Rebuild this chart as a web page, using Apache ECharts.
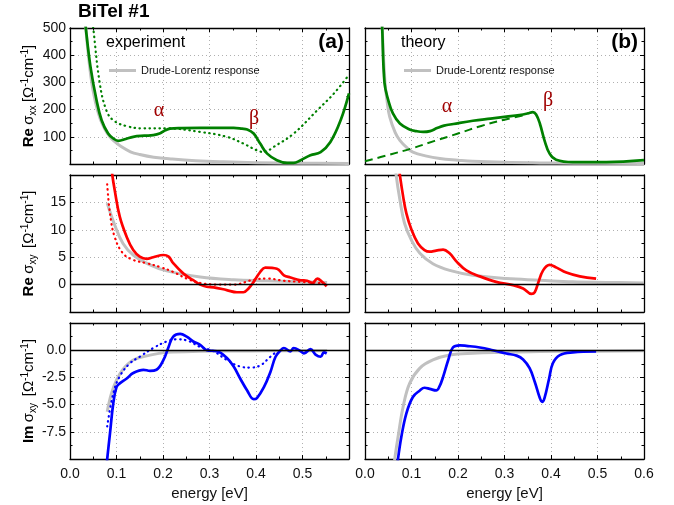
<!DOCTYPE html>
<html>
<head>
<meta charset="utf-8">
<script src="https://cdn.jsdelivr.net/npm/echarts@6/dist/echarts.min.js"></script>
<style>
html, body { margin: 0; padding: 0; background: #fff; }
#chart { width: 674px; height: 505px; }
</style>
</head>
<body>
<div id="chart"></div>
<script>
// (a) experiment, Re sigma_xx
const sxxExpE = [0.030, 0.034, 0.044, 0.057, 0.068, 0.082, 0.093, 0.104, 0.120, 0.136, 0.160, 0.179, 0.194, 0.205, 0.215, 0.240, 0.280, 0.320, 0.352, 0.370, 0.381, 0.395, 0.409, 0.424, 0.445, 0.467, 0.481, 0.496, 0.517, 0.539, 0.560, 0.582, 0.600]
const sxxExpV = [580, 500, 358, 235, 161, 112, 94, 85, 92, 100, 104, 106, 113, 124, 130, 132, 133, 133, 133, 130, 127, 112, 75, 38, 14, 4, 4, 14, 32, 44, 81, 161, 260]
const sxxFitE = [0.046, 0.050, 0.064, 0.078, 0.093, 0.122, 0.158, 0.208, 0.280, 0.337, 0.373, 0.402, 0.417, 0.438, 0.481, 0.532, 0.568, 0.600]
const sxxFitV = [560, 500, 297, 198, 161, 139, 131, 131, 118, 100, 75, 50, 44, 63, 112, 198, 260, 328]
const sxxDlExpE = [0.030, 0.034, 0.045, 0.055, 0.065, 0.075, 0.085, 0.095, 0.110, 0.130, 0.150, 0.180, 0.220, 0.270, 0.330, 0.400, 0.500, 0.600]
const sxxDlExpV = [620, 500, 320, 225, 165, 128, 102, 84, 64, 45, 35, 25, 18, 12, 8, 5, 3, 2]

// (b) theory, Re sigma_xx
const sxxThE = [0.034, 0.037, 0.042, 0.050, 0.060, 0.075, 0.096, 0.110, 0.125, 0.140, 0.155, 0.170, 0.190, 0.232, 0.270, 0.304, 0.332, 0.350, 0.361, 0.368, 0.376, 0.386, 0.397, 0.411, 0.447, 0.519, 0.600]
const sxxThV = [620, 500, 297, 235, 186, 149, 127, 121, 118, 121, 132, 141, 147, 159, 167, 174, 180, 186, 191, 182, 149, 87, 38, 16, 7, 7, 14]
const sxxInterE = [0, 0.05, 0.10, 0.15, 0.20, 0.25, 0.30, 0.345]
const sxxInterV = [10, 33, 57, 85, 112, 140, 163, 180]
const sxxDlThE = [0.034, 0.037, 0.043, 0.048, 0.053, 0.065, 0.075, 0.090, 0.103, 0.130, 0.161, 0.200, 0.232, 0.300, 0.376, 0.450, 0.600]
const sxxDlThV = [650, 500, 300, 225, 174, 115, 87, 60, 44, 30, 20, 14, 10, 6, 4, 3, 2]

// Re sigma_xy
const rxyExpE = [0.089, 0.091, 0.096, 0.107, 0.122, 0.136, 0.150, 0.165, 0.179, 0.201, 0.212, 0.222, 0.244, 0.265, 0.280, 0.294, 0.309, 0.337, 0.359, 0.373, 0.384, 0.395, 0.409, 0.420, 0.445, 0.460, 0.474, 0.496, 0.510, 0.521, 0.532, 0.542, 0.552]
const rxyExpV = [22, 20, 17.3, 12.4, 8.7, 6.3, 5.1, 4.7, 5.0, 5.4, 5.1, 3.9, 2.0, 0.8, 0, -0.4, -0.5, -1.0, -1.4, -1.4, -0.7, 0.5, 2.3, 3.1, 2.9, 1.7, 1.3, 0.8, 0.7, 0.3, 1.1, 0.5, -0.3]
const rxyFitE = [0.080, 0.086, 0.096, 0.114, 0.136, 0.165, 0.194, 0.222, 0.251, 0.280, 0.316, 0.352, 0.395, 0.424, 0.460, 0.496, 0.532, 0.550]
const rxyFitV = [18.3, 13, 8.7, 5.7, 4.5, 3.9, 3.2, 2.3, 1.1, 0.3, 0, 0, 0.9, 1.1, 0.7, 0.5, 0.3, 0.1]
const rxyDlExpE = [0.080, 0.096, 0.114, 0.136, 0.172, 0.208, 0.280, 0.352, 0.424, 0.496, 0.553]
const rxyDlExpV = [14.9, 10.9, 7.5, 5.4, 3.6, 2.5, 1.4, 0.9, 0.7, 0.5, 0.4]
const rxyThE = [0.072, 0.075, 0.082, 0.089, 0.100, 0.114, 0.128, 0.139, 0.153, 0.168, 0.182, 0.197, 0.218, 0.247, 0.282, 0.318, 0.340, 0.358, 0.365, 0.372, 0.383, 0.397, 0.412, 0.433, 0.462, 0.497]
const rxyThV = [22, 20, 16.1, 13, 10, 7.5, 6.3, 6.0, 6.2, 6.4, 5.7, 4.2, 2.6, 1.5, 0.5, -0.1, -0.7, -1.7, -1.4, 0.2, 2.6, 3.6, 3.1, 2.2, 1.5, 1.1]
const rxyDlThE = [0.064, 0.067, 0.075, 0.085, 0.100, 0.118, 0.146, 0.182, 0.232, 0.304, 0.376, 0.447, 0.519, 0.600]
const rxyDlThV = [23, 20, 15.5, 11.2, 8.1, 5.7, 3.8, 2.6, 1.7, 1.1, 0.8, 0.5, 0.4, 0.3]

// Im sigma_xy
const ixyExpE = [0.079, 0.080, 0.086, 0.093, 0.100, 0.107, 0.122, 0.136, 0.158, 0.172, 0.186, 0.201, 0.212, 0.222, 0.237, 0.251, 0.265, 0.280, 0.294, 0.316, 0.337, 0.352, 0.366, 0.381, 0.395, 0.402, 0.417, 0.431, 0.442, 0.453, 0.460, 0.474, 0.481, 0.496, 0.503, 0.517, 0.528, 0.539, 0.546, 0.552]
const ixyExpV = [-10.5, -10, -7.65, -4.9, -3.4, -3.05, -2.6, -2.1, -1.8, -1.9, -1.8, -0.9, 0.3, 1.25, 1.5, 1.25, 0.8, 0.5, 0, -0.1, -0.7, -1.5, -2.6, -3.7, -4.5, -4.4, -3.4, -2.0, -0.6, 0, 0.2, -0.1, 0.2, -0.1, -0.3, 0.1, -0.4, -0.6, -0.2, -0.3]
const ixyFitE = [0.080, 0.093, 0.107, 0.129, 0.150, 0.179, 0.208, 0.229, 0.251, 0.280, 0.309, 0.337, 0.366, 0.388, 0.409, 0.431, 0.445]
const ixyFitV = [-7.0, -4.0, -2.4, -1.2, -0.6, 0.2, 0.8, 1.0, 0.9, 0.3, -0.1, -0.9, -1.5, -1.6, -1.4, -0.6, -0.1]
const ixyDlExpE = [0.080, 0.089, 0.100, 0.115, 0.136, 0.172, 0.208, 0.280, 0.352, 0.424, 0.496, 0.553]
const ixyDlExpV = [-5.65, -4.0, -2.75, -1.7, -0.9, -0.45, -0.2, -0.1, -0.08, -0.06, -0.05, -0.04]
const ixyThE = [0.069, 0.071, 0.078, 0.089, 0.103, 0.118, 0.128, 0.139, 0.153, 0.160, 0.168, 0.179, 0.189, 0.204, 0.218, 0.247, 0.275, 0.304, 0.326, 0.340, 0.354, 0.365, 0.376, 0.381, 0.386, 0.396, 0.404, 0.419, 0.447, 0.497]
const ixyThV = [-11, -10, -8.0, -5.8, -4.3, -3.7, -3.45, -3.55, -3.7, -3.35, -2.45, -0.9, 0.25, 0.45, 0.4, 0.25, 0, -0.3, -0.5, -0.85, -1.65, -2.9, -4.4, -4.75, -4.4, -2.6, -1.2, -0.45, -0.2, -0.12]
const ixyDlThE = [0.062, 0.064, 0.071, 0.082, 0.096, 0.118, 0.146, 0.182, 0.232, 0.304, 0.376, 0.447, 0.600]
const ixyDlThV = [-11, -10, -8.0, -5.2, -3.05, -1.65, -0.9, -0.45, -0.28, -0.2, -0.12, -0.1, -0.06]

const energyTicks = [0, 0.6, 0.1]
const rowScales = [
  {min: 0, max: 500, interval: 100, shown: [100, 200, 300, 400, 500], digits: 0},
  {min: -5, max: 20, interval: 5, shown: [0, 5, 10, 15], digits: 0},
  {min: -10, max: 2.5, interval: 2.5, shown: [0, -2.5, -5, -7.5], digits: 1}
]

const FONT = 'Liberation Sans, Arial, sans-serif'
const GREEN = '#008000', RED = '#ff0000', BLUE = '#0000ff', GRAY = '#c0c0c0', DARKRED = '#a00000'
const DL = 'Drude-Lorentz response'

const grids = [
  {left: 70, top: 28, width: 279, height: 136},
  {left: 365, top: 28, width: 279, height: 136},
  {left: 70, top: 175, width: 279, height: 137},
  {left: 365, top: 175, width: 279, height: 137},
  {left: 70, top: 323, width: 279, height: 136},
  {left: 365, top: 323, width: 279, height: 136}
]

const nameRich = {
  b: {fontSize: 15, fontWeight: 'bold', fontFamily: FONT, color: '#000'},
  n: {fontSize: 15, fontFamily: FONT, color: '#000'},
  s: {fontSize: 10, fontFamily: FONT, color: '#000', padding: [8, 0, 0, 0]},
  p: {fontSize: 10, fontFamily: FONT, color: '#000', padding: [0, 0, 8, 0]}
}
const yNames = [
  '{b|Re} {n|σ}{s|xx} {n|[Ω}{p|-1}{n|cm}{p|-1}{n|]}',
  '{b|Re} {n|σ}{s|xy}  {n|[Ω}{p|-1}{n|cm}{p|-1}{n|]}',
  '{b|Im} {n|σ}{s|xy}  {n|[Ω}{p|-1}{n|cm}{p|-1}{n|]}'
]

const pts = (xs, ys) => xs.map((x, i) => [x, ys[i]])

const tickStyle = {show: true, inside: true, length: 4, lineStyle: {color: '#000', width: 1}}
const minorStyle = {show: true, splitNumber: 2, length: 2.5, lineStyle: {color: '#000', width: 1}}
const gridLine = {show: true, lineStyle: {color: '#b0b0b0', width: 1, type: [1, 3]}}
const frame = {show: true, onZero: false, lineStyle: {color: '#000', width: 1.3}}

const xAxes = [], yAxes = []
grids.forEach((g, i) => {
  const row = Math.floor(i / 2), col = i % 2
  const sc = rowScales[row]
  xAxes.push({
    type: 'value', gridIndex: i, position: 'bottom',
    min: energyTicks[0], max: energyTicks[1], interval: energyTicks[2],
    axisLine: frame, axisTick: tickStyle, minorTick: minorStyle, splitLine: gridLine,
    axisLabel: {show: row === 2, margin: 8, fontSize: 14, fontFamily: FONT, color: '#111',
      formatter: v => (col === 0 && v > 0.55) ? '' : v.toFixed(1)},
    name: row === 2 ? 'energy [eV]' : '', nameLocation: 'middle', nameGap: 27,
    nameTextStyle: {fontSize: 15, fontFamily: FONT, color: '#111'}
  })
  yAxes.push({
    type: 'value', gridIndex: i, position: 'left',
    min: sc.min, max: sc.max, interval: sc.interval,
    axisLine: frame, axisTick: tickStyle, minorTick: minorStyle, splitLine: gridLine,
    axisLabel: {show: col === 0, margin: 4, fontSize: 14, fontFamily: FONT, color: '#111',
      formatter: v => sc.shown.some(s => Math.abs(s - v) < 1e-9) ? v.toFixed(sc.digits) : ''},
    name: col === 0 ? yNames[row] : '', nameLocation: 'middle', nameRotate: 90, nameGap: 32,
    nameTextStyle: {rich: nameRich}
  })
})
grids.forEach((g, i) => {
  const sc = rowScales[Math.floor(i / 2)]
  xAxes.push({
    type: 'value', gridIndex: i, position: 'top',
    min: energyTicks[0], max: energyTicks[1], interval: energyTicks[2],
    axisLine: frame, axisTick: tickStyle, minorTick: minorStyle,
    splitLine: {show: false}, axisLabel: {show: false}
  })
  yAxes.push({
    type: 'value', gridIndex: i, position: 'right',
    min: sc.min, max: sc.max, interval: sc.interval,
    axisLine: frame, axisTick: tickStyle, minorTick: minorStyle,
    splitLine: {show: false}, axisLabel: {show: false}
  })
})

const DOT = [0.5, 4.5], DASH = [8, 5]

function line(name, gi, xs, ys, color, width, type, z) {
  return {
    name: name, type: 'line', xAxisIndex: gi, yAxisIndex: gi,
    data: pts(xs, ys), showSymbol: false, smooth: 0.4,
    lineStyle: {color: color, width: width, type: type, cap: type === DOT ? 'round' : 'butt', join: 'round'},
    itemStyle: {color: color}, z: z, silent: true
  }
}
const zeroLine = {
  silent: true, symbol: ['none', 'none'], label: {show: false},
  lineStyle: {color: '#000', width: 1.3, type: 'solid'}, data: [{yAxis: 0}]
}

const series = [
  line(DL, 0, sxxDlExpE, sxxDlExpV, GRAY, 3, 'solid', 2),
  line('fit xx', 0, sxxFitE, sxxFitV, GREEN, 2.2, DOT, 3),
  line('exp xx', 0, sxxExpE, sxxExpV, GREEN, 2.7, 'solid', 4),
  line(DL, 1, sxxDlThE, sxxDlThV, GRAY, 3, 'solid', 2),
  line('inter xx', 1, sxxInterE, sxxInterV, GREEN, 2, DASH, 3),
  line('th xx', 1, sxxThE, sxxThV, GREEN, 2.7, 'solid', 4),
  Object.assign(line(DL, 2, rxyDlExpE, rxyDlExpV, GRAY, 3, 'solid', 2), {markLine: zeroLine}),
  line('fit rxy', 2, rxyFitE, rxyFitV, RED, 2.2, DOT, 3),
  line('exp rxy', 2, rxyExpE, rxyExpV, RED, 2.7, 'solid', 4),
  Object.assign(line(DL, 3, rxyDlThE, rxyDlThV, GRAY, 3, 'solid', 2), {markLine: zeroLine}),
  line('th rxy', 3, rxyThE, rxyThV, RED, 2.7, 'solid', 4),
  Object.assign(line(DL, 4, ixyDlExpE, ixyDlExpV, GRAY, 3, 'solid', 2), {markLine: zeroLine}),
  line('fit ixy', 4, ixyFitE, ixyFitV, BLUE, 2.2, DOT, 3),
  line('exp ixy', 4, ixyExpE, ixyExpV, BLUE, 2.7, 'solid', 4),
  Object.assign(line(DL, 5, ixyDlThE, ixyDlThV, GRAY, 3, 'solid', 2), {markLine: zeroLine}),
  line('th ixy', 5, ixyThE, ixyThV, BLUE, 2.7, 'solid', 4)
]

function label(text, x, y, font, color, align) {
  return {type: 'text', x: x, y: y, silent: true, z: 10,
    style: {text: text, font: font, fill: color, textAlign: align, align: align,
      textVerticalAlign: 'middle', verticalAlign: 'middle'}}
}

const legendBase = {
  data: [DL], icon: 'rect', itemWidth: 27, itemHeight: 3, padding: 0,
  textStyle: {fontSize: 11, fontFamily: FONT, color: '#111'}, selectedMode: false
}

const chart = echarts.init(document.getElementById('chart'), null, {renderer: 'canvas'})
chart.setOption({
  animation: false,
  backgroundColor: '#fff',
  grid: grids,
  xAxis: xAxes,
  yAxis: yAxes,
  legend: [
    Object.assign({left: 109, top: 65}, legendBase),
    Object.assign({left: 404, top: 65}, legendBase)
  ],
  graphic: [
    label('BiTeI #1', 78, 12, 'bold 19px ' + FONT, '#000', 'left'),
    label('experiment', 106, 43, '16px ' + FONT, '#000', 'left'),
    label('theory', 401, 43, '16px ' + FONT, '#000', 'left'),
    label('(a)', 344, 42, 'bold 21px ' + FONT, '#000', 'right'),
    label('(b)', 638, 42, 'bold 21px ' + FONT, '#000', 'right'),
    label('α', 159, 111, '20px Liberation Serif, serif', DARKRED, 'center'),
    label('β', 254, 119, '20px Liberation Serif, serif', DARKRED, 'center'),
    label('α', 447, 107, '20px Liberation Serif, serif', DARKRED, 'center'),
    label('β', 548, 101, '20px Liberation Serif, serif', DARKRED, 'center')
  ],
  series: series
})
</script>
</body>
</html>
